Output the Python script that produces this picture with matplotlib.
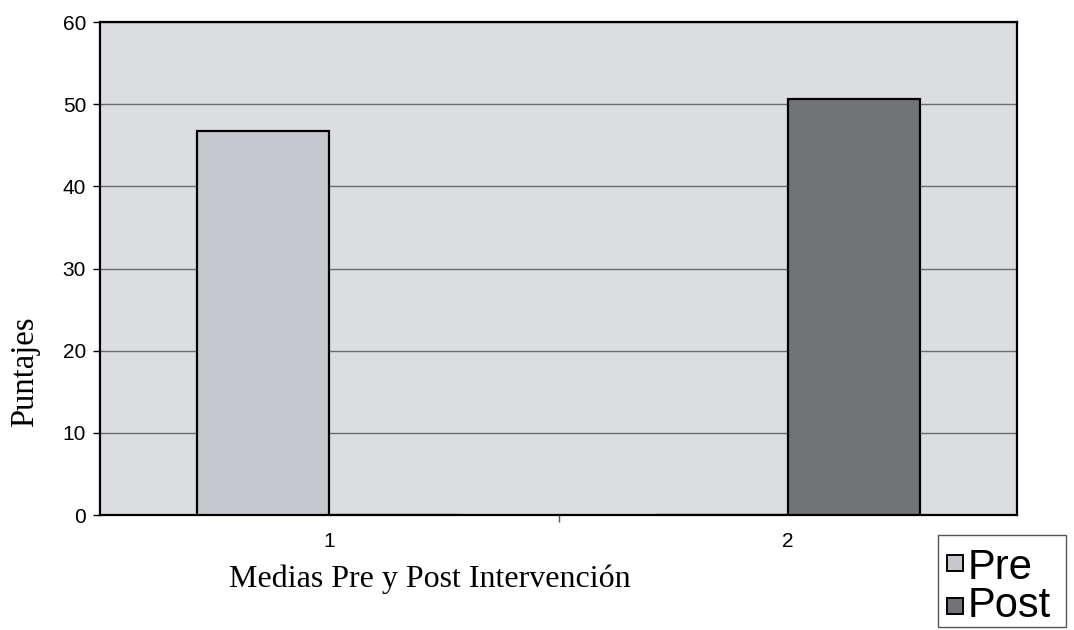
import matplotlib
matplotlib.use("Agg")
import matplotlib.pyplot as plt
from matplotlib.patches import Rectangle
import numpy as np

# Data
categories = [1, 2]
series_names = ["Pre", "Post"]
pre_values = [46.8, 0]
post_values = [0, 50.6]
y_ticks = [0, 10, 20, 30, 40, 50, 60]

W, H = 1074, 630
fig = plt.figure(figsize=(W / 100, H / 100), dpi=100)
fig.patch.set_facecolor("white")
ax = fig.add_axes([0.0931, 0.1825, 0.8539, 0.7825])
ax.set_facecolor("#dbdde1")

pre_color = "#c6c8ce"
post_color = "#727376"

x = np.array(categories, dtype=float)
width = 0.288
ax.bar(x - width / 2, pre_values, width, color=pre_color,
       edgecolor="black", linewidth=1.6, zorder=3)
ax.bar(x + width / 2, post_values, width, color=post_color,
       edgecolor="black", linewidth=1.6, zorder=3)

ax.set_xlim(0.5, 2.5)
ax.set_ylim(0, 60)
ax.set_yticks(y_ticks)
ax.set_yticklabels([str(v) for v in y_ticks], fontfamily="Liberation Sans", fontsize=15)

# category labels without ticks; a tick mark at the category boundary
ax.set_xticks([1.5])
ax.set_xticklabels([""])
ax.tick_params(axis="x", length=5, width=1, direction="out", color="#555555")
for c in categories:
    ax.text(c, -0.034, str(c), transform=ax.get_xaxis_transform(),
            ha="center", va="top", fontfamily="Liberation Sans", fontsize=15)

ax.tick_params(axis="y", length=5, width=1, direction="out", pad=5)
ax.grid(axis="y", color="#6a6b6d", linewidth=1.0, zorder=1)
ax.set_axisbelow(True)
for s in ax.spines.values():
    s.set_linewidth(1.6)
    s.set_color("black")

fig.text(0.400, 0.080, "Medias Pre y Post Intervención", ha="center", va="center",
         fontfamily="Liberation Serif", fontsize=23)
fig.text(0.023, 0.41, "Puntajes", ha="center", va="center", rotation=90,
         fontfamily="Liberation Serif", fontsize=23.5)

# legend box drawn in figure pixel space
def px(xp, yp):
    return xp / W, 1 - yp / H

fx, fy = px(938, 627)
fig.patches.append(Rectangle((fx, fy), 128 / W, 92 / H, transform=fig.transFigure,
                             facecolor="white", edgecolor="#555555", linewidth=1.0))
legend_rows = [(series_names[0], pre_color, 563, 568), (series_names[1], post_color, 606, 606)]
for name, col, ysq, ytx in legend_rows:
    sx, sy = px(947, ysq + 8)
    fig.patches.append(Rectangle((sx, sy), 16 / W, 16 / H, transform=fig.transFigure,
                                 facecolor=col, edgecolor="black", linewidth=1.4))
    tx, ty = px(968, ytx)
    fig.text(tx, ty, name, ha="left", va="center", fontfamily="Liberation Sans",
             fontsize=30)

fig.savefig("out.png", dpi=100)
